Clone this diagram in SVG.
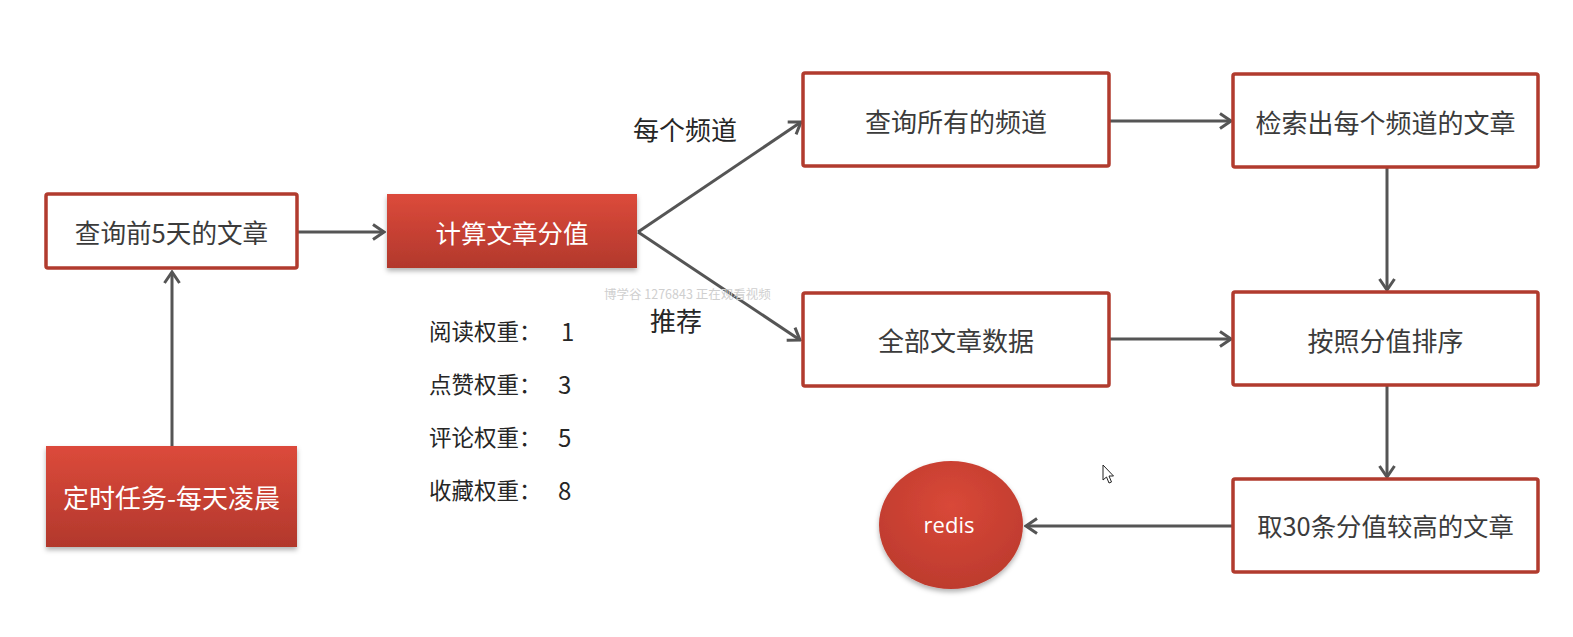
<svg xmlns="http://www.w3.org/2000/svg" width="1573" height="637" viewBox="0 0 1573 637">
<style>
.box{fill:#ffffff;stroke:#b13b2e;stroke-width:3.5}
.red{fill:url(#redg);filter:url(#sh)}
.t{font-family:"Noto Sans CJK SC","Noto Sans",sans-serif;fill:#3b3b3b;text-anchor:middle;dominant-baseline:central;font-size:26px}
.w{fill:#ffffff}
.lbl{font-family:"Noto Sans CJK SC","Noto Sans",sans-serif;fill:#262626;dominant-baseline:central}
.c{stroke:#555555;stroke-width:3;fill:none;marker-end:url(#ah)}
</style>
<defs>
<linearGradient id="redg" x1="0" y1="0" x2="0" y2="1">
<stop offset="0" stop-color="#dc4a3b"/>
<stop offset="1" stop-color="#b2382c"/>
</linearGradient>
<radialGradient id="redr" cx="0.5" cy="0.35" r="0.7">
<stop offset="0" stop-color="#d94838"/>
<stop offset="1" stop-color="#bb3a2d"/>
</radialGradient>
<filter id="sh" x="-10%" y="-10%" width="120%" height="130%">
<feDropShadow dx="0" dy="3" stdDeviation="2.5" flood-color="#000000" flood-opacity="0.3"/>
</filter>
<marker id="ah" markerUnits="userSpaceOnUse" viewBox="-14 -10 16 20" markerWidth="16" markerHeight="20" refX="0" refY="0" orient="auto">
<path d="M-11,-7.5 L0,0 L-11,7.5" fill="none" stroke="#555555" stroke-width="3" stroke-linejoin="miter"/>
</marker>
</defs>
<rect width="1573" height="637" fill="#ffffff"/>

<g id="connectors">
<line class="c" x1="172" y1="446" x2="172" y2="272"/>
<line class="c" x1="298" y1="232" x2="384" y2="232"/>
<line class="c" x1="638" y1="232" x2="801" y2="122"/>
<line class="c" x1="638" y1="232" x2="800" y2="340"/>
<line class="c" x1="1110" y1="121" x2="1231" y2="121"/>
<line class="c" x1="1110" y1="339" x2="1231" y2="339"/>
<line class="c" x1="1387" y1="168" x2="1387" y2="290"/>
<line class="c" x1="1387" y1="386" x2="1387" y2="477"/>
<line class="c" x1="1233" y1="526" x2="1026" y2="526"/>
</g>

<g id="n_query5">
<rect class="box" x="46" y="194" width="251" height="74" rx="2"/>
<text class="t" x="171.5" y="231" style="font-size:25.6px">查询前5天的文章</text>
</g>
<g id="n_calc">
<rect class="red" x="387" y="194" width="250" height="74"/>
<text class="t w" x="512" y="231" style="font-size:25.5px">计算文章分值</text>
</g>
<g id="n_timer">
<rect class="red" x="46" y="446" width="251" height="101"/>
<text class="t w" x="171.5" y="496">定时任务-每天凌晨</text>
</g>
<g id="n_channels">
<rect class="box" x="803" y="73" width="306" height="93" rx="2"/>
<text class="t" x="956" y="120">查询所有的频道</text>
</g>
<g id="n_search">
<rect class="box" x="1233" y="74" width="305" height="93" rx="2"/>
<text class="t" x="1385.5" y="121">检索出每个频道的文章</text>
</g>
<g id="n_all">
<rect class="box" x="803" y="293" width="306" height="93" rx="2"/>
<text class="t" x="956" y="339">全部文章数据</text>
</g>
<g id="n_sort">
<rect class="box" x="1233" y="292" width="305" height="93" rx="2"/>
<text class="t" x="1385.5" y="339">按照分值排序</text>
</g>
<g id="n_top30">
<rect class="box" x="1233" y="479" width="305" height="93" rx="2"/>
<text class="t" x="1385.5" y="525" style="font-size:25.4px">取30条分值较高的文章</text>
</g>
<g id="n_redis">
<ellipse cx="951" cy="525" rx="72" ry="64" fill="url(#redr)" filter="url(#sh)"/>
<text class="t w" x="949" y="524" style="font-family:'Open Sans','Noto Sans',sans-serif;font-size:22px">redis</text>
</g>

<g id="labels">
<text class="lbl" x="633" y="128" font-size="26">每个频道</text>
<text class="lbl" x="650" y="319" font-size="26">推荐</text>
<text class="lbl" x="429" y="330" font-size="22.5">阅读权重：<tspan x="561" font-size="24">1</tspan></text>
<text class="lbl" x="429" y="383" font-size="22.5">点赞权重：<tspan x="558" font-size="24">3</tspan></text>
<text class="lbl" x="429" y="436" font-size="22.5">评论权重：<tspan x="558" font-size="24">5</tspan></text>
<text class="lbl" x="429" y="489" font-size="22.5">收藏权重：<tspan x="558" font-size="24">8</tspan></text>
<text x="604" y="293" font-size="12.5" fill="#cfcfcf" style="font-family:'Noto Sans CJK SC','Noto Sans',sans-serif" dominant-baseline="central">博学谷 1276843 正在观看视频</text>
</g>

<g id="cursor">
<path d="M1103,465 L1103,480 L1106.5,477 L1109,483 L1111.5,482 L1109,476 L1113.5,476 Z" fill="#ffffff" stroke="#222222" stroke-width="1"/>
</g>
</svg>
